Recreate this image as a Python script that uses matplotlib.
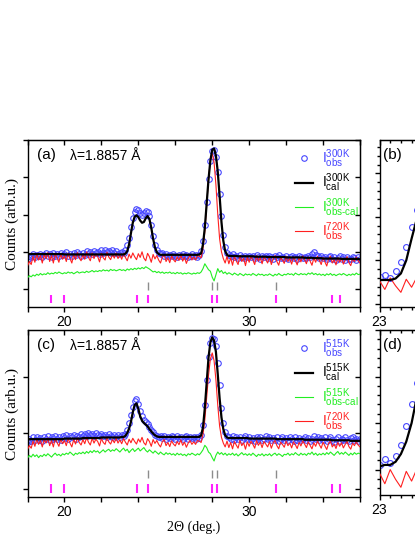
import numpy as np
import matplotlib
matplotlib.use("Agg")
import matplotlib.pyplot as plt
from matplotlib.ticker import (FixedLocator, MultipleLocator, NullFormatter,
                               FuncFormatter)
from matplotlib.lines import Line2D

plt.rcParams['font.family'] = ['Liberation Sans', 'DejaVu Sans']
plt.rcParams['mathtext.fontset'] = 'custom'
plt.rcParams['mathtext.rm'] = 'Liberation Sans'
plt.rcParams['mathtext.it'] = 'Liberation Sans:italic'
plt.rcParams['mathtext.bf'] = 'Liberation Sans:bold'

# angle grid (deg.), 0.1 step from 18 to 36
tth = np.round(np.arange(18.0, 36.05, 0.1), 1)

# ---- 300K (panel a units) ----
obs_300 = [
    0.82, 0.90, 0.86, 0.93, 0.85, 0.91, 0.88, 0.95, 0.87, 0.92,
    0.96, 0.89, 0.93, 0.87, 0.97, 0.90, 0.94, 0.88, 0.98, 0.91,
    0.93, 0.99, 0.90, 0.95, 0.89, 0.97, 0.92, 1.00, 0.94, 0.90,
    0.96, 0.92, 1.01, 0.95, 0.99, 0.93, 1.03, 0.96, 1.00, 0.94,
    1.04, 0.97, 1.06, 0.99, 1.02, 0.96, 1.05, 0.98, 1.01, 0.95,
    0.97, 1.00, 0.96, 1.05, 1.18, 1.38, 1.66, 1.90, 2.08, 2.16,
    2.12, 2.05, 2.00, 2.04, 2.10, 2.07, 1.95, 1.72, 1.42, 1.18,
    1.05, 0.98, 0.93, 0.96, 0.90, 0.94, 0.89, 0.92, 0.88, 0.93,
    0.90, 0.87, 0.92, 0.89, 0.94, 0.88, 0.91, 0.86, 0.90, 0.93,
    0.88, 0.91, 0.87, 0.92, 1.02, 1.28, 1.72, 2.35, 2.95, 3.45,
    3.70, 3.72, 3.55, 3.15, 2.55, 1.95, 1.45, 1.12, 0.97, 0.92,
    0.88, 0.93, 0.86, 0.90, 0.84, 0.91, 0.87, 0.83, 0.89, 0.86,
    0.90, 0.85, 0.88, 0.83, 0.91, 0.86, 0.82, 0.89, 0.85, 0.88,
    0.84, 0.90, 0.86, 0.82, 0.88, 0.85, 0.91, 0.83, 0.87, 0.84,
    0.88, 0.82, 0.86, 0.90, 0.84, 0.87, 0.81, 0.89, 0.85, 0.83,
    0.87, 0.84, 0.90, 0.86, 0.95, 1.00, 0.92, 0.88, 0.84, 0.89,
    0.83, 0.87, 0.80, 0.85, 0.89, 0.82, 0.86, 0.79, 0.84, 0.88,
    0.81, 0.85, 0.78, 0.86, 0.82, 0.80, 0.87, 0.83, 0.79, 0.85,
    0.82]

cal_300 = [
    0.94, 0.94, 0.94, 0.94, 0.94, 0.94, 0.94, 0.94, 0.94, 0.94,
    0.94, 0.94, 0.94, 0.94, 0.94, 0.94, 0.94, 0.94, 0.94, 0.94,
    0.93, 0.93, 0.93, 0.93, 0.93, 0.93, 0.93, 0.93, 0.93, 0.93,
    0.93, 0.93, 0.93, 0.93, 0.93, 0.93, 0.93, 0.93, 0.93, 0.93,
    0.93, 0.93, 0.93, 0.93, 0.93, 0.93, 0.93, 0.93, 0.93, 0.93,
    0.93, 0.93, 0.93, 0.95, 1.02, 1.20, 1.50, 1.78, 1.94, 1.98,
    1.93, 1.84, 1.78, 1.80, 1.90, 1.96, 1.88, 1.65, 1.35, 1.12,
    0.99, 0.94, 0.92, 0.92, 0.92, 0.92, 0.92, 0.92, 0.92, 0.92,
    0.92, 0.92, 0.92, 0.92, 0.92, 0.92, 0.92, 0.92, 0.92, 0.92,
    0.92, 0.92, 0.92, 0.93, 0.96, 1.20, 1.65, 2.30, 2.95, 3.45,
    3.74, 3.77, 3.58, 3.15, 2.50, 1.80, 1.30, 1.02, 0.92, 0.89,
    0.89, 0.89, 0.89, 0.89, 0.88, 0.88, 0.88, 0.88, 0.88, 0.88,
    0.88, 0.88, 0.88, 0.87, 0.87, 0.87, 0.87, 0.87, 0.87, 0.87,
    0.86, 0.86, 0.86, 0.86, 0.86, 0.86, 0.86, 0.86, 0.86, 0.86,
    0.85, 0.85, 0.85, 0.85, 0.85, 0.85, 0.85, 0.85, 0.85, 0.85,
    0.84, 0.84, 0.84, 0.84, 0.84, 0.83, 0.83, 0.83, 0.83, 0.83,
    0.82, 0.82, 0.82, 0.82, 0.82, 0.82, 0.82, 0.82, 0.82, 0.82,
    0.81, 0.81, 0.81, 0.81, 0.81, 0.81, 0.81, 0.81, 0.81, 0.81,
    0.80]

diff_300 = [
    0.30, 0.36, 0.33, 0.38, 0.35, 0.40, 0.37, 0.42, 0.38, 0.41,
    0.39, 0.44, 0.40, 0.43, 0.41, 0.45, 0.42, 0.46, 0.43, 0.41,
    0.44, 0.42, 0.46, 0.43, 0.45, 0.41, 0.44, 0.47, 0.43, 0.45,
    0.46, 0.44, 0.48, 0.45, 0.47, 0.50, 0.46, 0.49, 0.47, 0.50,
    0.48, 0.52, 0.49, 0.51, 0.48, 0.53, 0.50, 0.52, 0.49, 0.51,
    0.53, 0.50, 0.52, 0.49, 0.54, 0.51, 0.55, 0.52, 0.56, 0.53,
    0.57, 0.54, 0.58, 0.55, 0.60, 0.57, 0.54, 0.50, 0.46, 0.48,
    0.44, 0.47, 0.43, 0.46, 0.42, 0.45, 0.43, 0.46, 0.42, 0.44,
    0.41, 0.45, 0.42, 0.44, 0.40, 0.43, 0.41, 0.44, 0.42, 0.40,
    0.43, 0.41, 0.44, 0.42, 0.46, 0.55, 0.68, 0.60, 0.52, 0.48,
    0.32, 0.22, 0.38, 0.55, 0.45, 0.50, 0.42, 0.46, 0.40, 0.44,
    0.41, 0.38, 0.43, 0.40, 0.37, 0.42, 0.39, 0.36, 0.41, 0.38,
    0.40, 0.37, 0.42, 0.39, 0.36, 0.41, 0.38, 0.40, 0.36, 0.39,
    0.37, 0.41, 0.38, 0.35, 0.40, 0.37, 0.42, 0.38, 0.36, 0.40,
    0.38, 0.42, 0.39, 0.41, 0.37, 0.43, 0.40, 0.38, 0.42, 0.39,
    0.41, 0.38, 0.43, 0.40, 0.44, 0.39, 0.42, 0.38, 0.41, 0.37,
    0.40, 0.36, 0.41, 0.38, 0.42, 0.37, 0.40, 0.36, 0.39, 0.41,
    0.38, 0.42, 0.39, 0.36, 0.40, 0.37, 0.41, 0.38, 0.43, 0.39,
    0.40]

# ---- 720K observed (panel a units) ----
obs_720 = [
    0.62, 0.74, 0.66, 0.88, 0.72, 0.95, 0.78, 0.90, 0.70, 0.93,
    0.82, 0.98, 0.74, 0.90, 0.70, 0.96, 0.84, 0.72, 0.94, 0.80,
    0.90, 0.74, 0.96, 0.82, 0.70, 0.93, 0.79, 0.98, 0.84, 0.76,
    0.93, 0.80, 1.00, 0.85, 0.76, 0.97, 0.82, 0.94, 0.87, 0.73,
    0.96, 0.84, 0.78, 0.99, 0.86, 0.79, 0.93, 0.83, 0.97, 0.82,
    0.92, 0.80, 0.96, 0.85, 0.76, 0.94, 0.83, 0.97, 0.87, 0.79,
    0.95, 0.85, 1.00, 0.83, 0.76, 0.96, 0.87, 0.72, 0.93, 0.81,
    0.90, 0.78, 0.70, 0.86, 0.93, 0.74, 0.84, 0.71, 0.89, 0.79,
    0.73, 0.87, 0.77, 0.92, 0.75, 0.85, 0.69, 0.82, 0.90, 0.78,
    0.86, 0.78, 0.90, 0.88, 0.84, 1.10, 1.55, 2.25, 2.95, 3.45,
    3.64, 3.40, 2.80, 2.00, 1.35, 1.00, 0.82, 0.70, 0.88, 0.68,
    0.84, 0.64, 0.87, 0.76, 0.66, 0.90, 0.74, 0.83, 0.63, 0.86,
    0.72, 0.88, 0.78, 0.66, 0.90, 0.75, 0.85, 0.68, 0.87, 0.79,
    0.70, 0.86, 0.66, 0.82, 0.90, 0.74, 0.64, 0.85, 0.78, 0.69,
    0.88, 0.74, 0.82, 0.67, 0.86, 0.77, 0.65, 0.84, 0.73, 0.89,
    0.79, 0.68, 0.86, 0.75, 0.64, 0.83, 0.72, 0.88, 0.77, 0.66,
    0.85, 0.73, 0.62, 0.81, 0.88, 0.70, 0.79, 0.65, 0.84, 0.72,
    0.83, 0.67, 0.78, 0.87, 0.71, 0.63, 0.82, 0.74, 0.86, 0.76,
    0.70]

# ---- 515K (panel c units) ----
obs_515 = [
    0.84, 0.90, 0.86, 0.92, 0.87, 0.93, 0.88, 0.91, 0.86, 0.92,
    0.89, 0.94, 0.87, 0.92, 0.89, 0.95, 0.90, 0.93, 0.88, 0.94,
    0.91, 0.96, 0.89, 0.94, 0.92, 0.97, 0.90, 0.95, 0.93, 0.98,
    0.94, 0.99, 0.95, 1.00, 0.96, 0.98, 0.94, 1.00, 0.97, 0.95,
    0.99, 0.94, 0.97, 0.92, 0.98, 0.95, 0.93, 0.97, 0.92, 0.96,
    0.93, 0.97, 0.94, 0.99, 1.06, 1.18, 1.32, 1.46, 1.57, 1.60,
    1.52, 1.40, 1.30, 1.24, 1.20, 1.16, 1.11, 1.06, 1.01, 0.97,
    0.95, 0.92, 0.95, 0.91, 0.94, 0.90, 0.93, 0.91, 0.95, 0.92,
    0.90, 0.94, 0.91, 0.93, 0.89, 0.92, 0.95, 0.90, 0.93, 0.91,
    0.92, 0.89, 0.93, 0.91, 0.97, 1.15, 1.50, 1.95, 2.35, 2.60,
    2.70, 2.68, 2.55, 2.25, 1.85, 1.45, 1.18, 1.02, 0.95, 0.92,
    0.90, 0.94, 0.88, 0.92, 0.89, 0.93, 0.87, 0.91, 0.94, 0.89,
    0.92, 0.88, 0.91, 0.86, 0.93, 0.89, 0.92, 0.87, 0.90, 0.94,
    0.89, 0.92, 0.87, 0.91, 0.88, 0.93, 0.86, 0.90, 0.92, 0.88,
    0.91, 0.87, 0.93, 0.89, 0.86, 0.92, 0.88, 0.91, 0.87, 0.90,
    0.93, 0.88, 0.91, 0.86, 0.90, 0.94, 0.89, 0.92, 0.87, 0.91,
    0.88, 0.92, 0.86, 0.90, 0.93, 0.87, 0.84, 0.89, 0.92, 0.86,
    0.90, 0.87, 0.92, 0.88, 0.85, 0.91, 0.93, 0.87, 0.90, 0.86,
    0.89]

cal_515 = [
    0.89, 0.89, 0.89, 0.89, 0.89, 0.89, 0.89, 0.89, 0.89, 0.89,
    0.89, 0.89, 0.89, 0.89, 0.89, 0.89, 0.89, 0.89, 0.89, 0.89,
    0.90, 0.90, 0.90, 0.90, 0.90, 0.90, 0.90, 0.90, 0.90, 0.90,
    0.91, 0.91, 0.91, 0.91, 0.91, 0.91, 0.91, 0.91, 0.91, 0.91,
    0.92, 0.92, 0.92, 0.92, 0.92, 0.92, 0.92, 0.92, 0.92, 0.92,
    0.92, 0.93, 0.93, 0.95, 1.00, 1.08, 1.20, 1.37, 1.50, 1.53,
    1.43, 1.30, 1.22, 1.18, 1.15, 1.12, 1.07, 1.03, 0.99, 0.96,
    0.94, 0.93, 0.93, 0.93, 0.93, 0.93, 0.93, 0.93, 0.93, 0.93,
    0.93, 0.93, 0.93, 0.93, 0.93, 0.93, 0.93, 0.93, 0.93, 0.93,
    0.93, 0.93, 0.93, 0.93, 0.96, 1.10, 1.45, 1.90, 2.35, 2.62,
    2.71, 2.65, 2.45, 2.05, 1.62, 1.28, 1.07, 0.96, 0.92, 0.91,
    0.91, 0.91, 0.91, 0.91, 0.91, 0.91, 0.91, 0.91, 0.91, 0.91,
    0.90, 0.90, 0.90, 0.90, 0.90, 0.90, 0.90, 0.90, 0.90, 0.90,
    0.90, 0.90, 0.90, 0.90, 0.90, 0.89, 0.89, 0.89, 0.89, 0.89,
    0.89, 0.89, 0.89, 0.89, 0.89, 0.89, 0.89, 0.89, 0.89, 0.89,
    0.88, 0.88, 0.88, 0.88, 0.88, 0.88, 0.88, 0.88, 0.88, 0.88,
    0.88, 0.88, 0.88, 0.88, 0.88, 0.87, 0.87, 0.87, 0.87, 0.87,
    0.87, 0.87, 0.87, 0.87, 0.87, 0.86, 0.86, 0.86, 0.86, 0.86,
    0.86]

diff_515 = [
    0.55, 0.60, 0.57, 0.62, 0.58, 0.61, 0.56, 0.60, 0.58, 0.62,
    0.59, 0.63, 0.60, 0.57, 0.61, 0.64, 0.60, 0.62, 0.59, 0.63,
    0.61, 0.64, 0.62, 0.66, 0.63, 0.60, 0.64, 0.62, 0.65, 0.63,
    0.66, 0.63, 0.67, 0.64, 0.68, 0.65, 0.69, 0.66, 0.68, 0.64,
    0.67, 0.70, 0.66, 0.69, 0.71, 0.67, 0.70, 0.68, 0.72, 0.69,
    0.66, 0.70, 0.73, 0.68, 0.71, 0.65, 0.69, 0.72, 0.67, 0.70,
    0.73, 0.68, 0.71, 0.74, 0.69, 0.66, 0.70, 0.67, 0.64, 0.68,
    0.65, 0.62, 0.66, 0.63, 0.61, 0.65, 0.62, 0.64, 0.61, 0.63,
    0.60, 0.64, 0.61, 0.63, 0.60, 0.62, 0.59, 0.63, 0.61, 0.64,
    0.62, 0.60, 0.63, 0.61, 0.65, 0.70, 0.78, 0.74, 0.66, 0.63,
    0.56, 0.50, 0.60, 0.66, 0.62, 0.65, 0.61, 0.64, 0.60, 0.63,
    0.61, 0.64, 0.60, 0.63, 0.59, 0.62, 0.65, 0.61, 0.63, 0.60,
    0.63, 0.60, 0.64, 0.61, 0.58, 0.62, 0.60, 0.63, 0.59, 0.62,
    0.60, 0.63, 0.59, 0.62, 0.64, 0.60, 0.63, 0.61, 0.58, 0.62,
    0.61, 0.64, 0.60, 0.63, 0.61, 0.65, 0.62, 0.60, 0.64, 0.61,
    0.63, 0.60, 0.64, 0.62, 0.66, 0.61, 0.64, 0.60, 0.63, 0.61,
    0.64, 0.61, 0.65, 0.62, 0.66, 0.63, 0.60, 0.64, 0.67, 0.62,
    0.65, 0.62, 0.66, 0.63, 0.60, 0.64, 0.61, 0.65, 0.62, 0.64,
    0.63]

# 720K curve rescaled for panel (c): level and peak factor
red_level = 0.82
red_scale_c = 0.571

# Bragg reflection positions (deg.)
refl_gray = [24.50, 27.99, 28.24, 31.45]
refl_mag = [19.28, 19.98, 23.91, 24.50, 27.99, 28.24, 31.45, 34.46, 34.91]

wavelength = "λ=1.8857 Å"

C_OBS = '#4646ff'
C_CAL = 'black'
C_DIF = '#22ee22'
C_RED = '#ff2020'
C_MAG = '#ff22ff'
C_GRAY = '#8c8c8c'

W, H = 415, 537
fig = plt.figure(figsize=(W / 100, H / 100), dpi=100)


def box(x0, y0, x1, y1):
    return [x0 / W, 1 - y1 / H, (x1 - x0) / W, (y1 - y0) / H]


ax_a = fig.add_axes(box(27.5, 140, 360, 307))
ax_c = fig.add_axes(box(27.5, 330, 360, 497))
ax_b = fig.add_axes(box(379.5, 140, 486.5, 307))
ax_d = fig.add_axes(box(379.5, 330, 486.5, 495))

red_a = np.array(obs_720)
red_c = red_level + red_scale_c * (red_a - red_level)


def draw(ax, obs, cal, dif, red, ms=4.0):
    ax.plot(tth, obs, ls='none', marker='o', ms=ms, mfc='none',
            mec=C_OBS, mew=0.8, zorder=2)
    ax.plot(tth, red, color=C_RED, lw=0.8, zorder=3)
    if dif is not None:
        ax.plot(tth, dif, color=C_DIF, lw=0.8, zorder=3)
    ax.plot(tth, cal, color=C_CAL, lw=1.6, zorder=4)


def frame(ax, xmaj, xmin, ymaj, ymin, xlim, ylim, minor_len=3.0):
    ax.set_xlim(*xlim)
    ax.set_ylim(*ylim)
    ax.xaxis.set_major_locator(xmaj())
    ax.xaxis.set_minor_locator(xmin())
    ax.yaxis.set_major_locator(ymaj())
    if ymin is not None:
        ax.yaxis.set_minor_locator(ymin())
    ax.yaxis.set_major_formatter(NullFormatter())
    ax.tick_params(which='major', direction='out', length=3.5, width=1,
                   labelsize=10, pad=2)
    ax.tick_params(which='minor', direction='out', length=minor_len, width=1)
    for s in ax.spines.values():
        s.set_linewidth(1.0)
    top = ax.secondary_xaxis('top')
    top.xaxis.set_major_locator(xmaj())
    top.xaxis.set_minor_locator(xmin())
    top.tick_params(which='major', direction='in', length=3.5, width=1,
                    labeltop=False)
    top.tick_params(which='minor', direction='in', length=minor_len, width=1)
    right = ax.secondary_yaxis('right')
    right.yaxis.set_major_locator(ymaj())
    if ymin is not None:
        right.yaxis.set_minor_locator(ymin())
    right.tick_params(which='major', direction='in', length=3.5, width=1,
                      labelright=False)
    right.tick_params(which='minor', direction='in', length=minor_len * 0.6,
                      width=1)


# ---- left panels ----
draw(ax_a, obs_300, cal_300, diff_300, red_a)
draw(ax_c, obs_515, cal_515, diff_515, red_c)

ax_a.vlines(refl_gray, -0.03, 0.20, color=C_GRAY, lw=1.0)
ax_a.vlines(refl_mag, -0.38, -0.16, color=C_MAG, lw=1.5)
ax_c.vlines(refl_gray, 0.20, 0.34, color=C_GRAY, lw=1.0)
ax_c.vlines(refl_mag, -0.07, 0.09, color=C_MAG, lw=1.5)

for ax, ylim in ((ax_a, (-0.48, 4.0)), (ax_c, (-0.143, 2.84))):
    frame(ax, lambda: FixedLocator([20, 30]), lambda: MultipleLocator(2),
          lambda: MultipleLocator(1), None, (18, 36), ylim, minor_len=3.5)
    ax.set_ylabel('Counts (arb.u.)', family=['Liberation Serif'],
                  fontsize=11, labelpad=0.5)

ax_c.set_xlabel('2Θ (deg.)', family=['Liberation Serif'], fontsize=10,
                labelpad=1)

for ax, tag in ((ax_a, '(a)'), (ax_c, '(c)')):
    ax.text(0.028, 0.95, tag, transform=ax.transAxes, fontsize=11,
            va='top', ha='left')
    ax.text(0.128, 0.945, wavelength, transform=ax.transAxes, fontsize=10,
            va='top', ha='left')


def legend(ax, temp):
    handles = [
        Line2D([], [], ls='none', marker='o', ms=4.0, mfc='none', mec=C_OBS,
               mew=0.8),
        Line2D([], [], color=C_CAL, lw=1.6),
        Line2D([], [], color=C_DIF, lw=0.8),
        Line2D([], [], color=C_RED, lw=0.8),
    ]
    labels = [
        r'$\mathrm{I}^{\mathrm{%s}}_{\mathrm{obs}}$' % temp,
        r'$\mathrm{I}^{\mathrm{%s}}_{\mathrm{cal}}$' % temp,
        r'$\mathrm{I}^{\mathrm{%s}}_{\mathrm{obs\text{-}cal}}$' % temp,
        r'$\mathrm{I}^{\mathrm{720K}}_{\mathrm{obs}}$',
    ]
    leg = ax.legend(handles, labels, loc='upper right',
                    bbox_to_anchor=(0.995, 0.955), frameon=False,
                    fontsize=10, handlelength=1.3, handletextpad=0.6,
                    labelspacing=0.12, borderpad=0, borderaxespad=0)
    for t, c in zip(leg.get_texts(), [C_OBS, C_CAL, C_DIF, C_RED]):
        t.set_color(c)


legend(ax_a, '300K')
legend(ax_c, '515K')

# ---- right panels (zoom on 23-25 deg.) ----
only_first = FuncFormatter(lambda v, p: '23' if abs(v - 23) < 1e-6 else '')
draw(ax_b, obs_300, cal_300, None, red_a, ms=4.2)
draw(ax_d, obs_515, cal_515, None, red_c, ms=4.2)
frame(ax_b, lambda: MultipleLocator(1), lambda: MultipleLocator(0.2),
      lambda: MultipleLocator(0.6), lambda: MultipleLocator(0.12),
      (23, 25), (0.558, 2.858), minor_len=2.5)
frame(ax_d, lambda: MultipleLocator(1), lambda: MultipleLocator(0.2),
      lambda: MultipleLocator(0.3), lambda: MultipleLocator(0.06),
      (23, 25), (0.736, 1.80), minor_len=2.5)
for ax, tag in ((ax_b, '(b)'), (ax_d, '(d)')):
    ax.xaxis.set_major_formatter(only_first)
    ax.text(0.03, 0.95, tag, transform=ax.transAxes, fontsize=11,
            va='top', ha='left')

fig.savefig('out.png', dpi=100)
